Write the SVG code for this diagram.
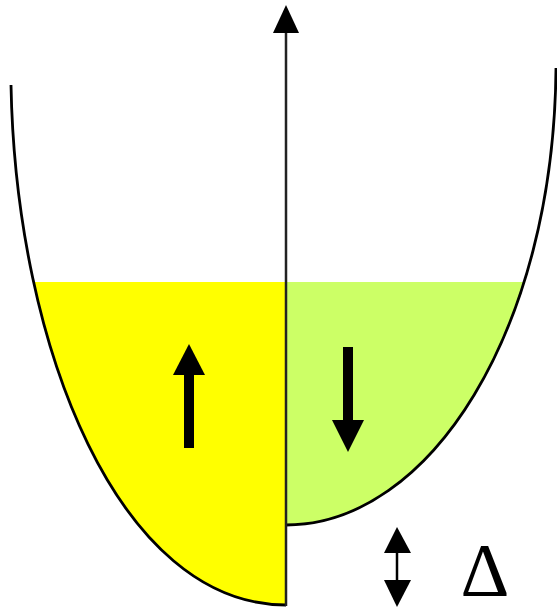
<svg xmlns="http://www.w3.org/2000/svg" width="557" height="615" viewBox="0 0 557 615">
<style>
.curve{fill:none;stroke:#000;stroke-width:2.8}
.arr{fill:#000;stroke:none}
.lbl{font-family:"Liberation Serif","Times New Roman",serif;font-size:76px;fill:#000}
</style>
<defs>
<clipPath id="below"><rect x="0" y="282" width="557" height="333"/></clipPath>
</defs>
<rect width="557" height="615" fill="#fff"/>
<g id="yellow-region" clip-path="url(#below)">
<path d="M11,85 C16,350 120,605 286,605 L286,0 L0,0 Z" fill="#FFFF00"/>
</g>
<g id="green-region" clip-path="url(#below)">
<path d="M286,525 C430,525 554,330 556,68 L286,68 Z" fill="#CCFF66"/>
</g>
<g id="left-curve"><path class="curve" d="M11,85 C16,350 120,605 286,605"/></g>
<g id="right-curve"><path class="curve" d="M286,525 C430,525 554,330 556,68"/></g>
<g id="connectors">
<g id="axis">
<line x1="286" y1="30" x2="286" y2="606" stroke="#222" stroke-width="2.5"/>
<polygon class="arr" points="286,5 299,33 273,33"/>
</g>
<g id="up-arrow">
<rect class="arr" x="184" y="372" width="10" height="76"/>
<polygon class="arr" points="189,344 205,375 173,375"/>
</g>
<g id="down-arrow">
<rect class="arr" x="343" y="347" width="10" height="76"/>
<polygon class="arr" points="348,452 364,420 332,420"/>
</g>
<g id="delta-arrow">
<line x1="397" y1="550" x2="397" y2="582" stroke="#000" stroke-width="2.5"/>
<polygon class="arr" points="397,527 411,553 384,553"/>
<polygon class="arr" points="397,607 411,580 384,580"/>
</g>
</g>
<g id="delta-label"><text class="lbl" x="485" y="596" text-anchor="middle">Δ</text></g>
</svg>
